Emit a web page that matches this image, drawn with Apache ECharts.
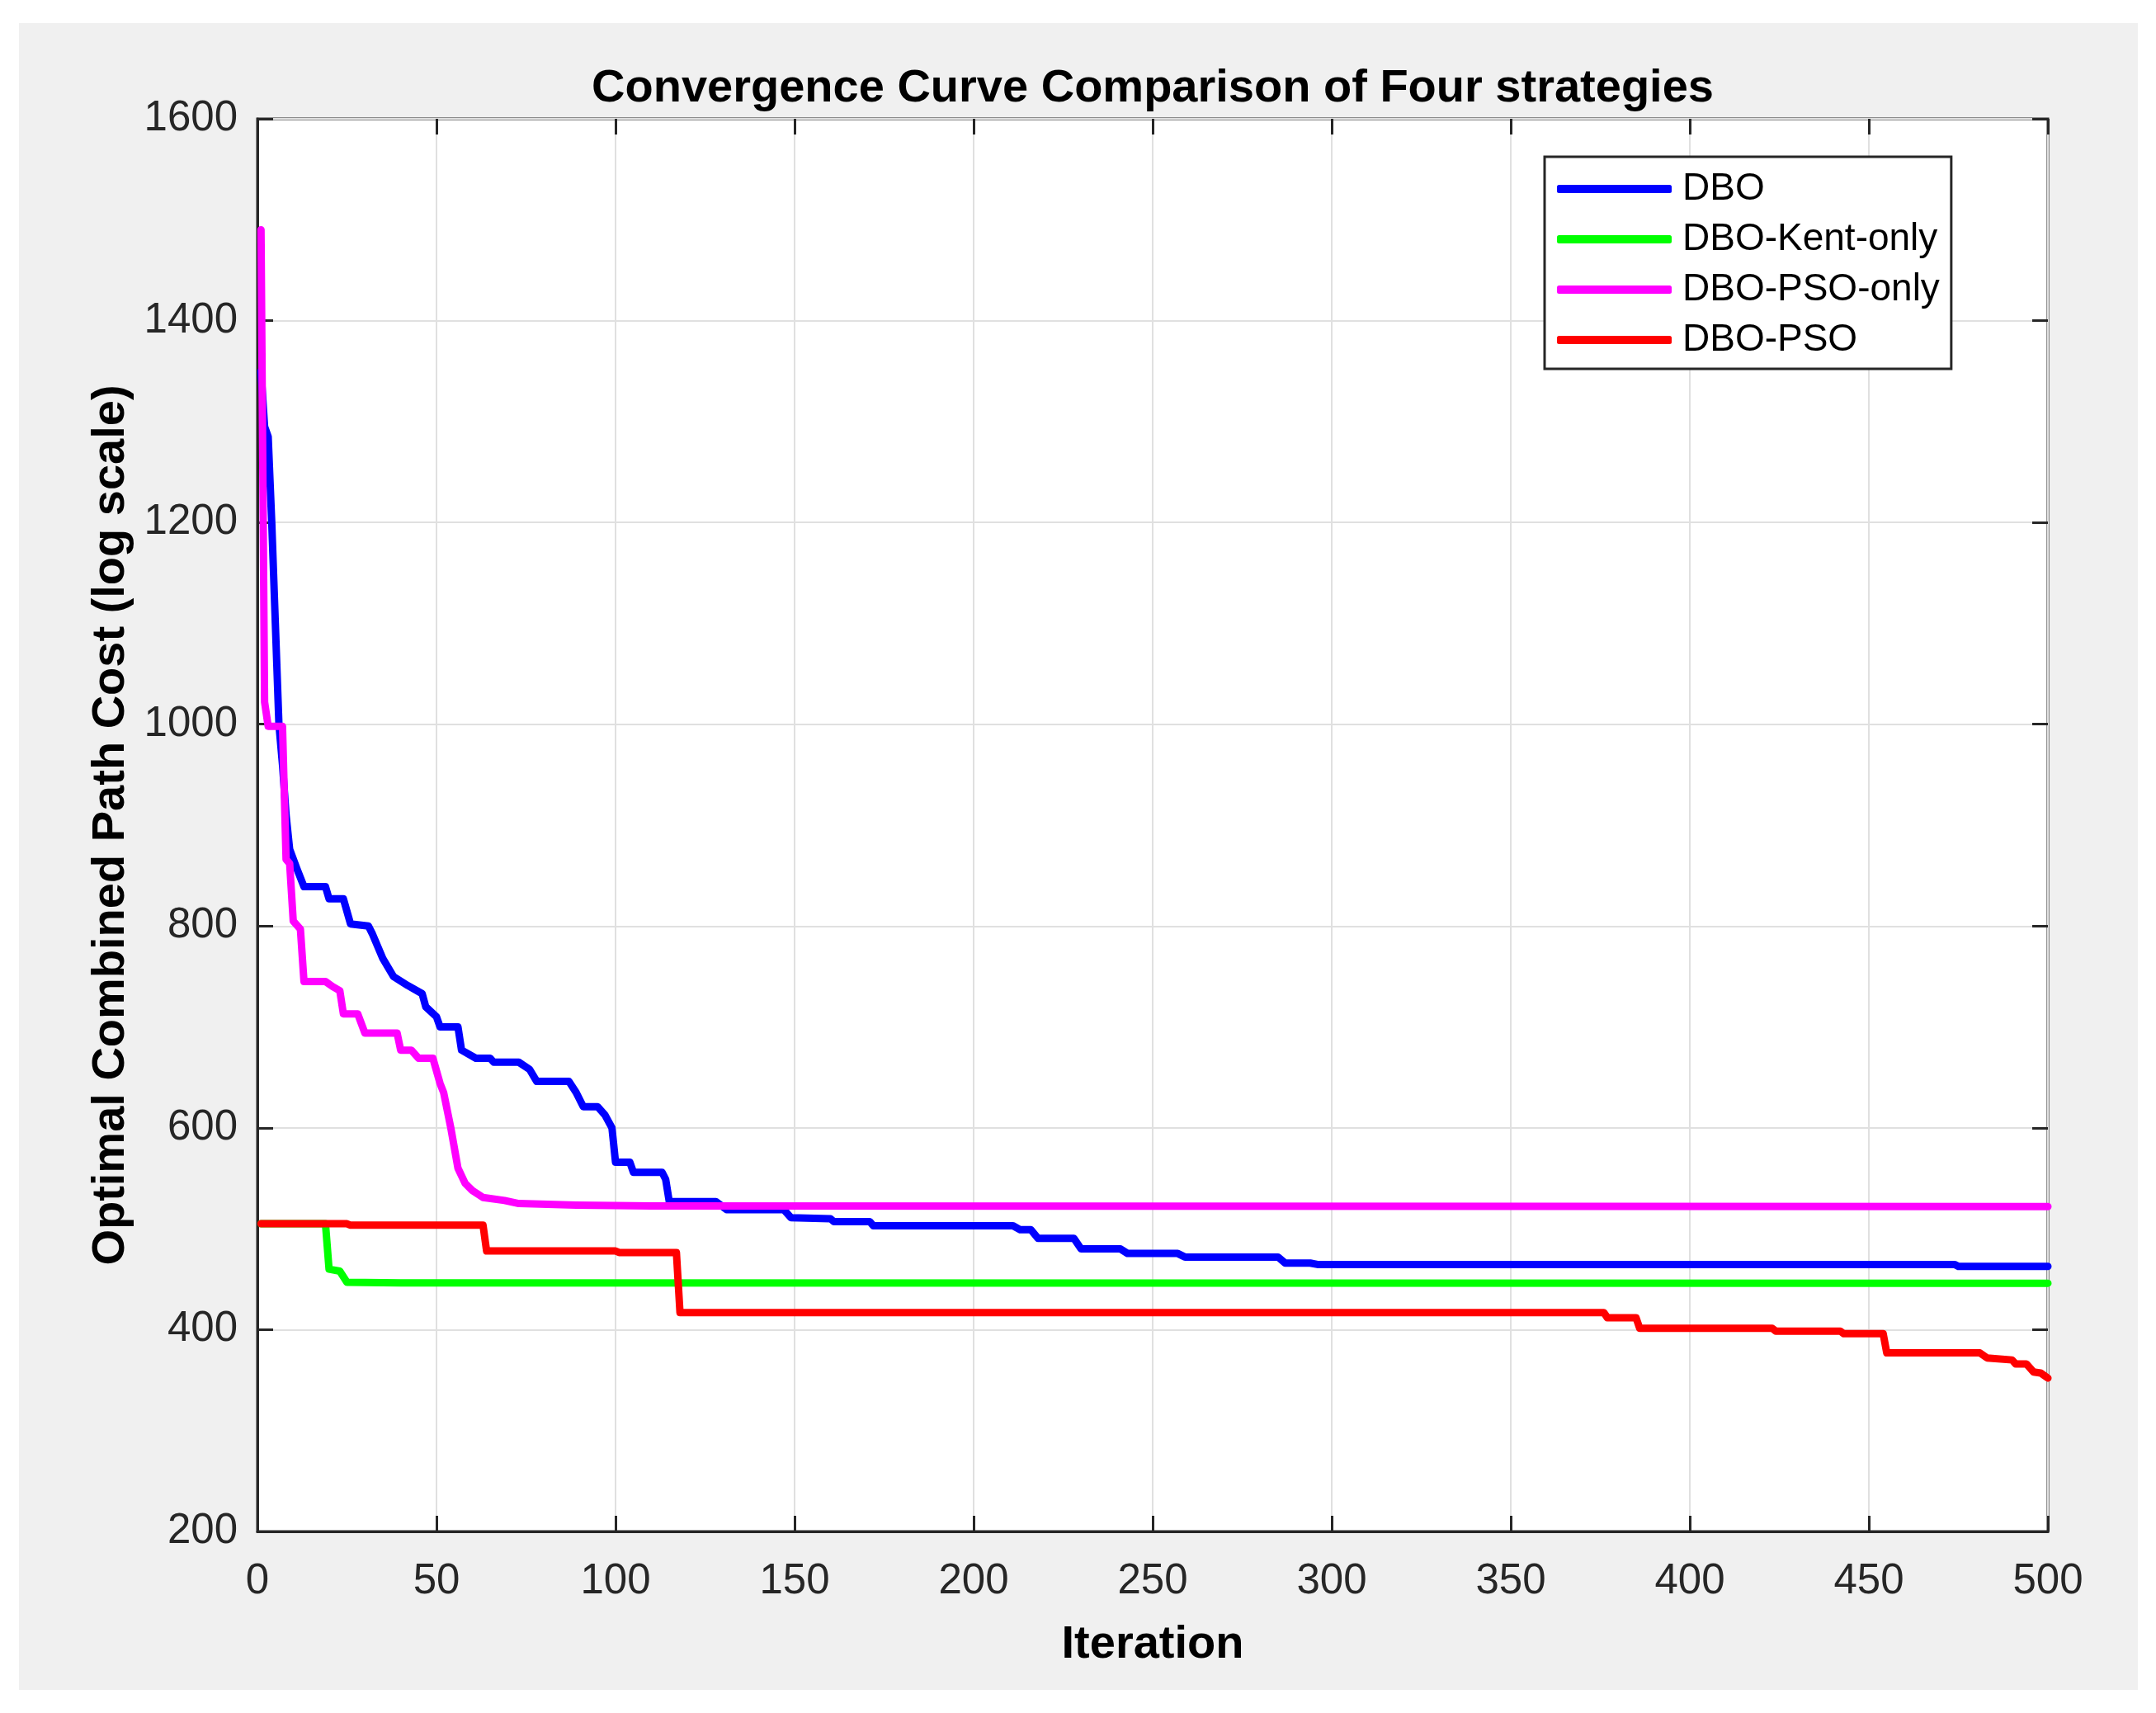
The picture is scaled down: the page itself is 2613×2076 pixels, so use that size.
<!DOCTYPE html>
<html>
<head>
<meta charset="utf-8">
<title>Convergence Curve Comparison</title>
<script src="https://cdn.jsdelivr.net/npm/echarts@6/dist/echarts.min.js"></script>
<style>
  html, body { margin: 0; padding: 0; background: #ffffff; }
  #chart { width: 2613px; height: 2076px; }
</style>
</head>
<body>
<div id="chart"></div>
<script>
// iteration / cost breakpoints
var dboIter = [1, 2, 3, 4, 5, 6, 7, 8, 9, 11, 13, 19, 20, 24, 26, 31, 32, 35, 38, 42, 46, 47, 50, 51, 56, 57, 61, 65, 66, 73, 76, 78, 87, 89, 91, 95, 97, 99, 100, 104, 105, 113, 114, 115, 128, 131, 147, 149, 160, 161, 171, 172, 211, 213, 216, 218, 228, 230, 241, 243, 257, 259, 285, 287, 294, 296, 474, 475, 500];
var dboCost = [1350, 1295, 1285, 1200, 1100, 1000, 960, 910, 876, 857, 839, 839, 827, 827, 802, 800, 793, 768, 750, 741, 733, 720, 710, 700, 700, 677, 669, 669, 665, 665, 658, 646, 646, 635, 621, 621, 613, 600, 566, 566, 556, 556, 549, 527, 527, 519, 519, 511, 510, 507, 507, 503, 503, 499, 499, 490.5, 490.5, 480, 480, 475.5, 475.5, 472, 472, 466, 466, 464.6, 464.6, 462.7, 462.7];

var kentIter = [1, 19, 20, 23, 25, 40, 500];
var kentCost = [505, 505, 460, 458, 447, 446.3, 446];

var psoOnlyIter = [1, 2, 3, 7, 8, 9, 10, 12, 13, 19, 21, 23, 24, 28, 30, 39, 40, 43, 45, 49, 51, 52, 54, 56, 58, 60, 63, 69, 73, 89, 110, 500];
var psoOnlyCost = [1490, 1022, 998, 998, 866, 862, 805, 797, 745, 745, 740, 736, 713, 713, 694, 694, 677, 677, 669, 669, 644, 635, 600, 560, 545, 538, 531, 528, 525, 523.5, 522.6, 522];

var dboPsoIter = [1, 25, 26, 63, 64, 100, 101, 117, 118, 376, 377, 385, 386, 423, 424, 442, 443, 454, 455, 481, 483, 490, 491, 494, 496, 498, 500];
var dboPsoCost = [505, 505, 503.5, 503.5, 478, 478, 476.5, 476.5, 417, 417, 411.7, 411.7, 401.4, 401.4, 398.6, 398.6, 396, 396, 377, 377, 372, 370, 366, 366, 358, 357, 352];

var seriesNames = ['DBO', 'DBO-Kent-only', 'DBO-PSO-only', 'DBO-PSO'];
var seriesColors = ['#0000ff', '#00ff00', '#ff00ff', '#ff0000'];
var xTicks = [0, 50, 100, 150, 200, 250, 300, 350, 400, 450, 500];
var yTicks = [200, 400, 600, 800, 1000, 1200, 1400, 1600];

function pairs(xs, ys) {
    var out = [];
    for (var i = 0; i < xs.length; i++) out.push([xs[i], ys[i]]);
    return out;
}

var allData = [
    pairs(dboIter, dboCost),
    pairs(kentIter, kentCost),
    pairs(psoOnlyIter, psoOnlyCost),
    pairs(dboPsoIter, dboPsoCost)
];

var fontFamily = '"Liberation Sans", Arial, Helvetica, sans-serif';
var axisColor = '#262626';

var myChart = echarts.init(document.getElementById('chart'));

// ticks point into the plot on every side, like MATLAB's box
function innerTicks() {
    return { show: true, inside: true, length: 19, lineStyle: { color: axisColor, width: 3 } };
}

var option = {
    animation: false,
    backgroundColor: '#ffffff',
    graphic: [{
        type: 'rect',
        z: -10,
        silent: true,
        shape: { x: 23, y: 28, width: 2568, height: 2020 },
        style: { fill: '#f0f0f0' }
    }],
    title: {
        text: 'Convergence Curve Comparison of Four strategies',
        left: 1397,
        top: 80,
        textAlign: 'center',
        padding: 0,
        textStyle: { fontFamily: fontFamily, fontSize: 56, fontWeight: 'bold', color: '#000000' }
    },
    legend: {
        orient: 'vertical',
        left: 1872,
        top: 190,
        icon: 'roundRect',
        itemWidth: 139,
        itemHeight: 10,
        itemGap: 15,
        padding: [16, 14, 12, 15],
        backgroundColor: '#ffffff',
        borderColor: axisColor,
        borderWidth: 3,
        borderRadius: 0,
        textStyle: { fontFamily: fontFamily, fontSize: 46, color: '#000000', lineHeight: 46, padding: [0, 0, 0, 8] },
        data: seriesNames
    },
    grid: {
        show: true,
        left: 312,
        top: 144,
        width: 2170,
        height: 1712,
        backgroundColor: '#ffffff',
        borderColor: axisColor,
        borderWidth: 3
    },
    xAxis: [{
        type: 'value',
        min: xTicks[0],
        max: xTicks[xTicks.length - 1],
        interval: 50,
        name: 'Iteration',
        nameLocation: 'middle',
        nameGap: 110,
        nameTextStyle: { fontFamily: fontFamily, fontSize: 56, fontWeight: 'bold', color: '#000000' },
        axisLine: { show: true, onZero: false, lineStyle: { color: axisColor, width: 3 } },
        axisTick: innerTicks(),
        axisLabel: { fontFamily: fontFamily, fontSize: 51, color: axisColor, margin: 35 },
        splitLine: { show: true, lineStyle: { color: '#e0e0e0', width: 2 } }
    }, {
        type: 'value',
        position: 'top',
        min: xTicks[0],
        max: xTicks[xTicks.length - 1],
        interval: 50,
        axisLine: { show: false, onZero: false },
        axisTick: innerTicks(),
        axisLabel: { show: false },
        splitLine: { show: false }
    }],
    yAxis: [{
        type: 'value',
        position: 'left',
        min: yTicks[0],
        max: yTicks[yTicks.length - 1],
        interval: 200,
        name: 'Optimal Combined Path Cost (log scale)',
        nameLocation: 'middle',
        nameRotate: 90,
        nameGap: 149,
        nameTextStyle: { fontFamily: fontFamily, fontSize: 56, fontWeight: 'bold', color: '#000000' },
        axisLine: { show: true, onZero: false, lineStyle: { color: axisColor, width: 3 } },
        axisTick: innerTicks(),
        axisLabel: {
            fontFamily: fontFamily, fontSize: 51, color: axisColor, margin: 24,
            formatter: function (v) { return String(v); }
        },
        splitLine: { show: true, lineStyle: { color: '#e0e0e0', width: 2 } }
    }, {
        type: 'value',
        position: 'right',
        min: yTicks[0],
        max: yTicks[yTicks.length - 1],
        interval: 200,
        axisLine: { show: false, onZero: false },
        axisTick: innerTicks(),
        axisLabel: { show: false },
        splitLine: { show: false }
    }],
    series: seriesNames.map(function (name, i) {
        return {
            name: name,
            type: 'line',
            xAxisIndex: 0,
            yAxisIndex: 0,
            showSymbol: false,
            symbol: 'none',
            color: seriesColors[i],
            lineStyle: { color: seriesColors[i], width: 9, join: 'round', cap: 'round' },
            z: 2 + i,
            data: allData[i]
        };
    })
};

myChart.setOption(option);
</script>
</body>
</html>
